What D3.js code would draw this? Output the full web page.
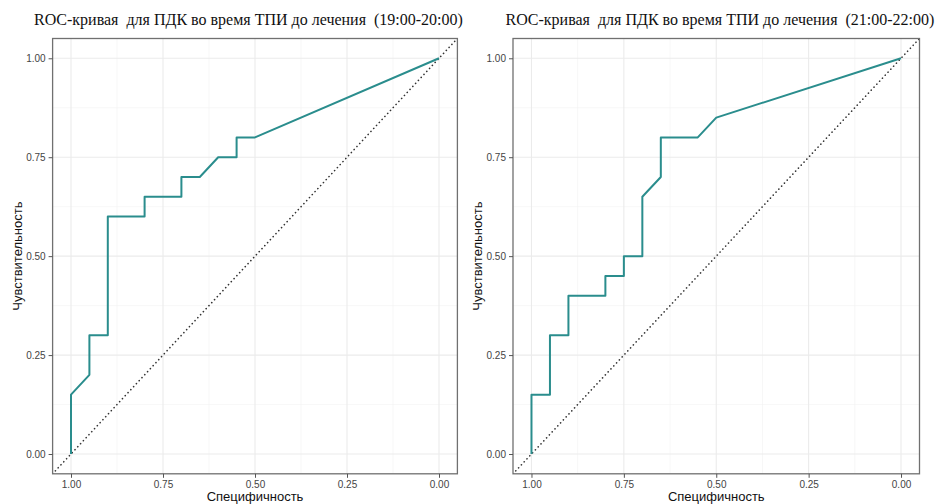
<!DOCTYPE html>
<html><head><meta charset="utf-8">
<script src="https://cdn.jsdelivr.net/npm/d3@7"></script>
<style>html,body{margin:0;padding:0;background:#fff;}svg{display:block;}</style>
</head><body>
<svg id="chart" width="941" height="504"></svg>
<script>
const titles = ["ROC-кривая  для ПДК во время ТПИ до лечения  (19:00-20:00)",
                "ROC-кривая  для ПДК во время ТПИ до лечения  (21:00-22:00)"];
const xTitle = "Специфичность";
const yTitle = "Чувствительность";
const ticks = [0, 0.25, 0.5, 0.75, 1];
const tickLabels = ["0.00", "0.25", "0.50", "0.75", "1.00"];
const minorTicks = [0.125, 0.375, 0.625, 0.875];

const spec1 = [1, 1, 0.95, 0.95, 0.9, 0.9, 0.8, 0.8, 0.7, 0.7, 0.65, 0.6, 0.55, 0.55, 0.5, 0];
const sens1 = [0, 0.15, 0.2, 0.3, 0.3, 0.6, 0.6, 0.65, 0.65, 0.7, 0.7, 0.75, 0.75, 0.8, 0.8, 1];
const spec2 = [1, 1, 0.95, 0.95, 0.9, 0.9, 0.8, 0.8, 0.75, 0.75, 0.7, 0.7, 0.65, 0.65, 0.55, 0.5, 0];
const sens2 = [0, 0.15, 0.15, 0.3, 0.3, 0.4, 0.4, 0.45, 0.45, 0.5, 0.5, 0.65, 0.7, 0.8, 0.8, 0.85, 1];

const panels = [
  {title: titles[0], spec: spec1, sens: sens1, x0: 52.6, x1: 457.4, titleX: 248.5, ylabX: 22},
  {title: titles[1], spec: spec2, sens: sens2, x0: 513.0, x1: 919.5, titleX: 720, ylabX: 482}
];
const yTop = 38.5, yBot = 473.8;
const svg = d3.select("#chart");
const sansFont = "'Liberation Sans', Arial, sans-serif";

panels.forEach((p, i) => {
  const x = d3.scaleLinear().domain([1.05, -0.05]).range([p.x0, p.x1]);
  const y = d3.scaleLinear().domain([-0.05, 1.05]).range([yBot, yTop]);
  const g = svg.append("g");
  const clipId = "clip" + i;
  svg.append("clipPath").attr("id", clipId).append("rect")
    .attr("x", p.x0).attr("y", yTop).attr("width", p.x1 - p.x0).attr("height", yBot - yTop);

  // minor grid
  minorTicks.forEach(t => {
    g.append("line").attr("x1", x(t)).attr("x2", x(t)).attr("y1", yTop).attr("y2", yBot)
      .attr("stroke", "#f2f2f2").attr("stroke-width", 0.6);
    g.append("line").attr("y1", y(t)).attr("y2", y(t)).attr("x1", p.x0).attr("x2", p.x1)
      .attr("stroke", "#f2f2f2").attr("stroke-width", 0.6);
  });
  ticks.forEach(t => {
    g.append("line").attr("x1", x(t)).attr("x2", x(t)).attr("y1", yTop).attr("y2", yBot)
      .attr("stroke", "#ebebeb").attr("stroke-width", 1.1);
    g.append("line").attr("y1", y(t)).attr("y2", y(t)).attr("x1", p.x0).attr("x2", p.x1)
      .attr("stroke", "#ebebeb").attr("stroke-width", 1.1);
  });

  // diagonal
  g.append("path").attr("clip-path", `url(#${clipId})`)
    .attr("d", d3.line().x(d => x(d[0])).y(d => y(d[1]))([[1.05, -0.05], [-0.05, 1.05]]))
    .attr("stroke", "#333").attr("stroke-width", 1.6).attr("fill", "none")
    .attr("stroke-dasharray", "0.1,4").attr("stroke-linecap", "round");

  // ROC curve
  const pts = p.spec.map((s, k) => [s, p.sens[k]]);
  g.append("path").attr("d", d3.line().x(d => x(d[0])).y(d => y(d[1]))(pts))
    .attr("stroke", "#2a8d8d").attr("stroke-width", 2).attr("fill", "none")
    .attr("stroke-linejoin", "round");

  // border
  g.append("rect").attr("x", p.x0).attr("y", yTop).attr("width", p.x1 - p.x0).attr("height", yBot - yTop)
    .attr("fill", "none").attr("stroke", "#707070").attr("stroke-width", 1.3);

  // axes
  const xAxis = d3.axisBottom(x).tickValues(ticks).tickFormat((d, k) => tickLabels[k]).tickSize(4).tickPadding(3);
  const yAxis = d3.axisLeft(y).tickValues(ticks).tickFormat((d, k) => tickLabels[k]).tickSize(4).tickPadding(3);
  const gx = g.append("g").attr("transform", `translate(0,${yBot})`).call(xAxis);
  const gy = g.append("g").attr("transform", `translate(${p.x0},0)`).call(yAxis);
  [gx, gy].forEach(a => {
    a.select(".domain").remove();
    a.selectAll(".tick line").attr("stroke", "#555").attr("stroke-width", 1);
    a.selectAll(".tick text").attr("fill", "#444").style("font-family", sansFont).style("font-size", "10px");
  });

  // axis titles
  g.append("text").attr("x", (x(1) + x(0)) / 2).attr("y", 500.5).attr("text-anchor", "middle")
    .style("font-family", sansFont).style("font-size", "13px").attr("fill", "#111").text(xTitle);
  g.append("text").attr("transform", `translate(${p.ylabX},${(y(0) + y(1)) / 2}) rotate(-90)`)
    .attr("text-anchor", "middle")
    .style("font-family", sansFont).style("font-size", "13px").attr("fill", "#111").text(yTitle);

  // title
  g.append("text").attr("x", p.titleX).attr("y", 25).attr("text-anchor", "middle")
    .style("font-family", "'Liberation Serif', 'Times New Roman', serif").style("font-size", "16px")
    .style("white-space", "pre").attr("fill", "#111").text(p.title);
});
</script>
</body></html>
